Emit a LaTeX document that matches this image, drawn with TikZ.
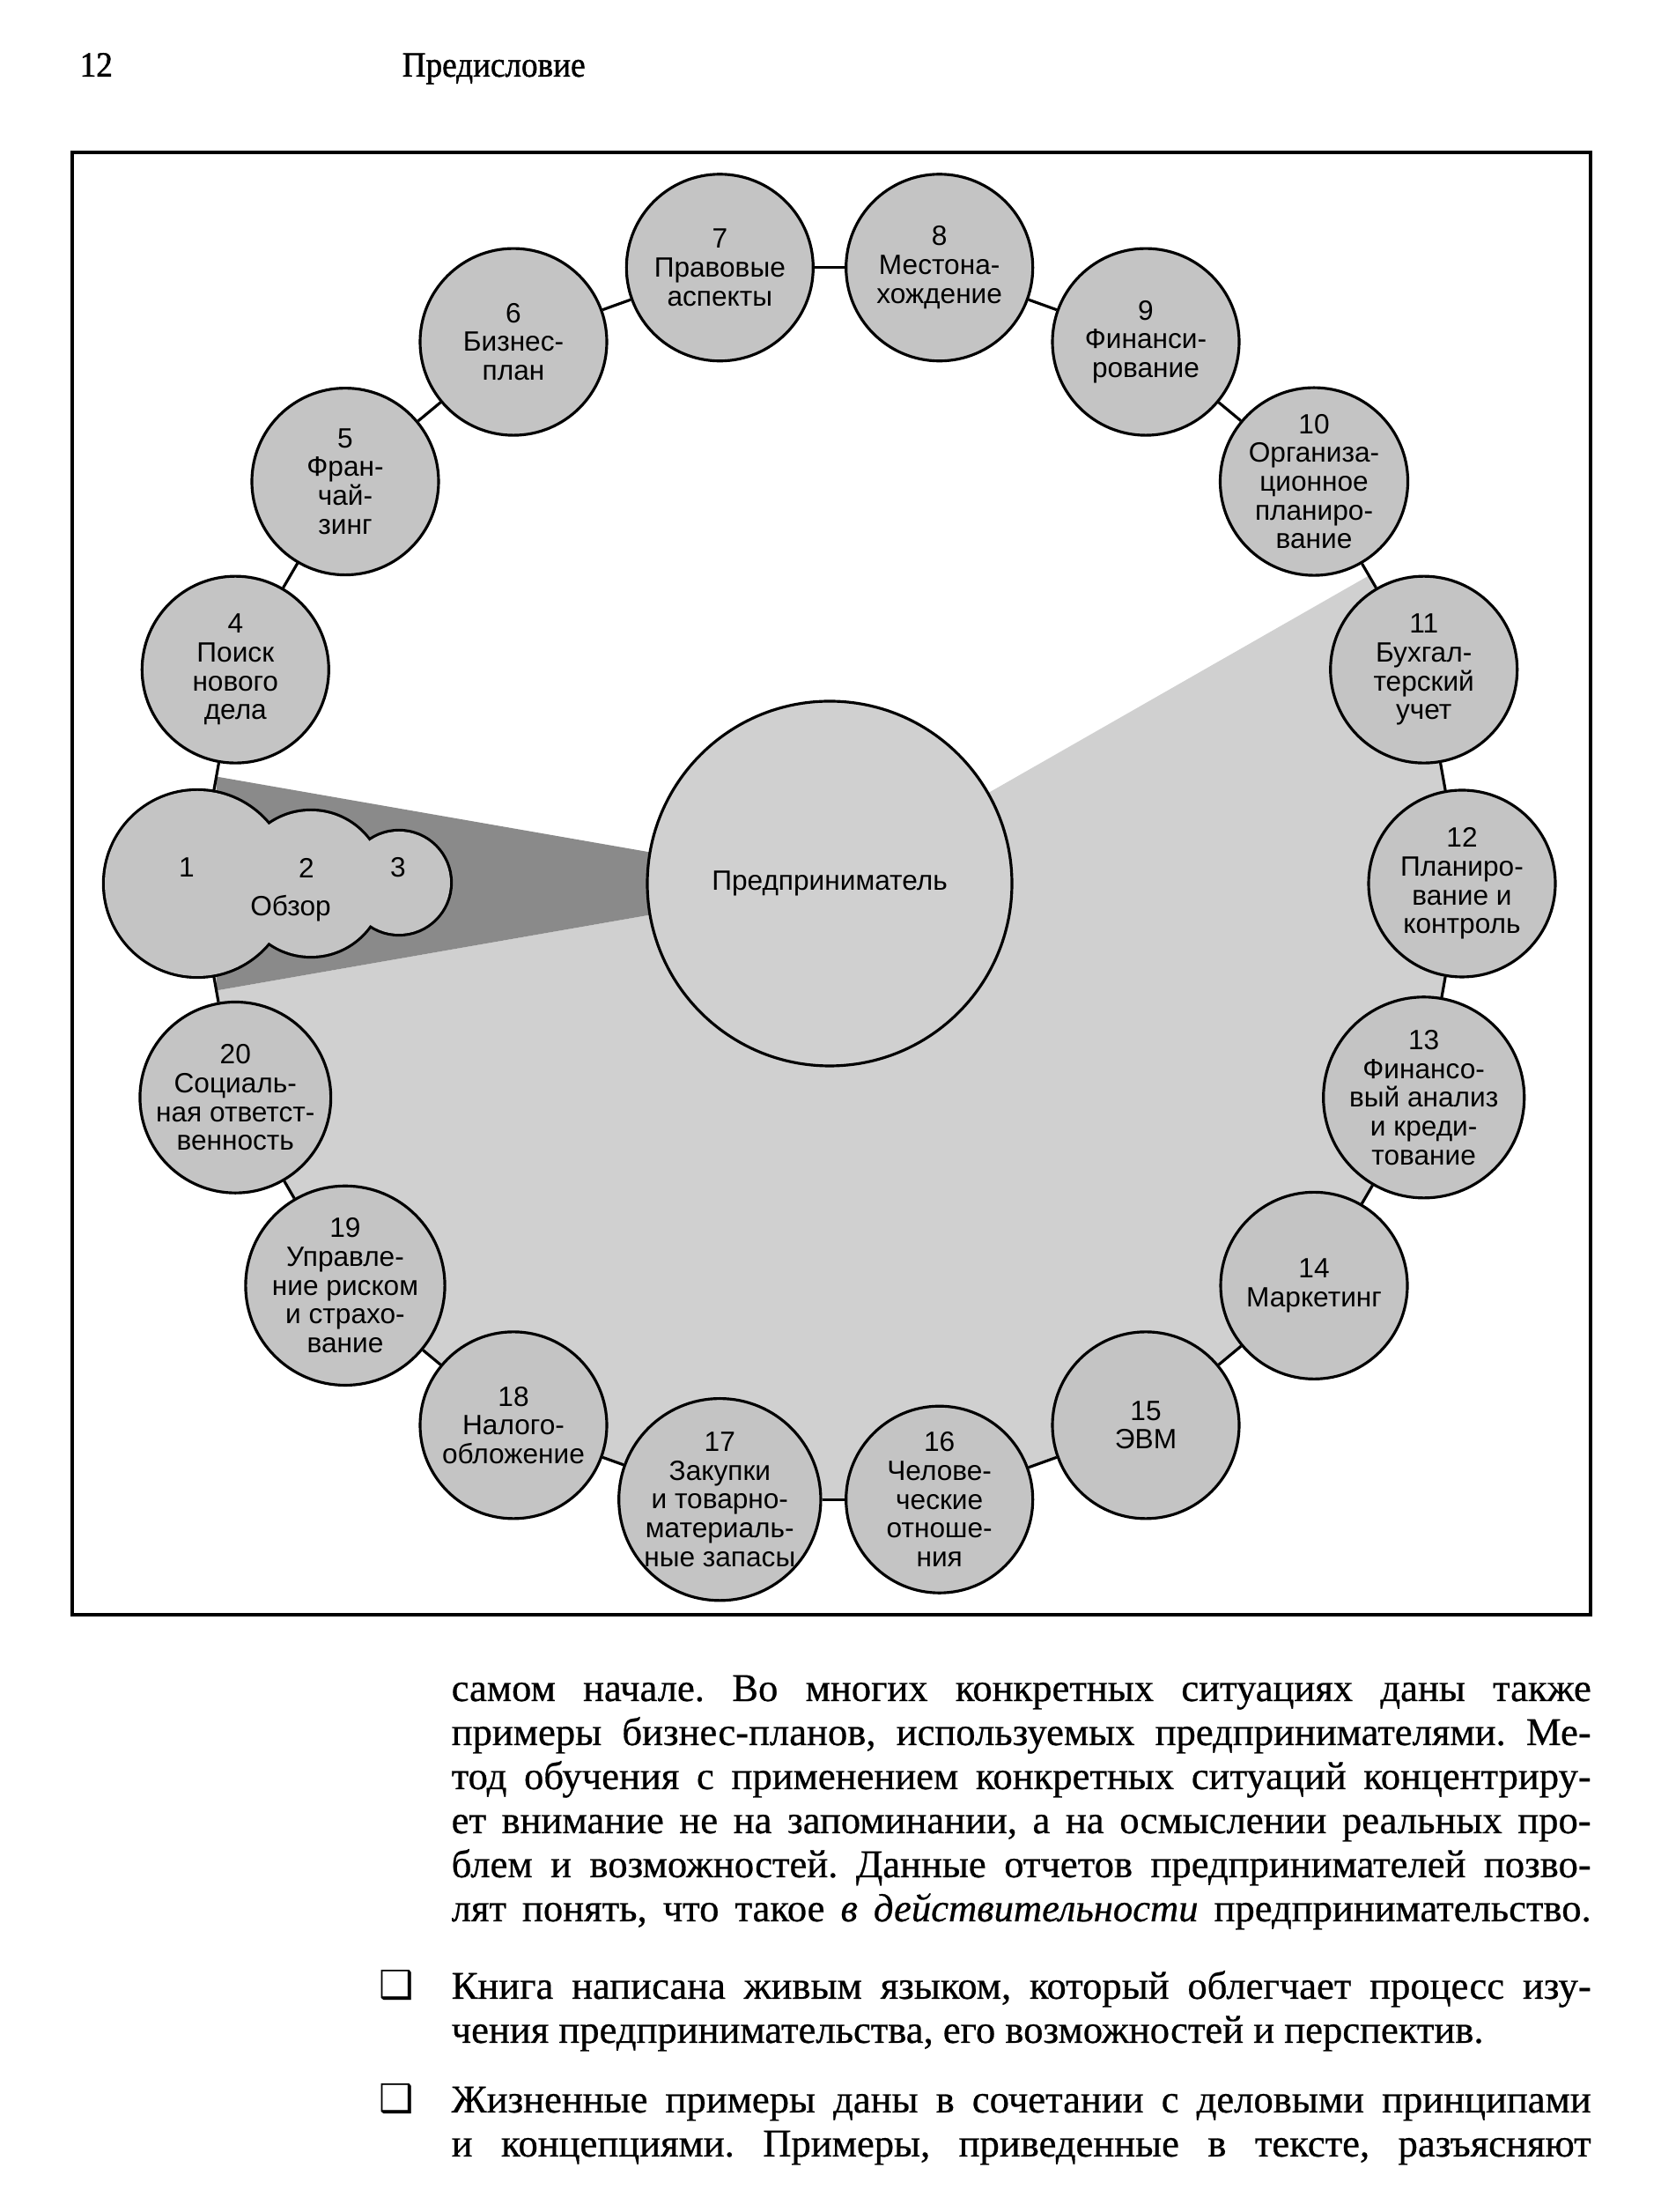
\documentclass[tikz,border=0pt]{standalone}
\usepackage{fontspec}
\setmainfont{Liberation Serif}
\setsansfont{Liberation Sans}
\newfontfamily\dingfont{DejaVu Sans}
\newfontfamily\headfont[FakeStretch=0.92,FakeBold=1.2]{Liberation Serif}
\newfontfamily\bodyfont[FakeBold=0.6]{Liberation Serif}
\frenchspacing
\usetikzlibrary{calc, backgrounds}

\definecolor{topicgray}{RGB}{196,196,196}
\definecolor{fieldgray}{RGB}{208,208,208}
\definecolor{wedgegray}{RGB}{138,138,138}

\begin{document}
\begin{tikzpicture}[
    topic/.style={draw, circle, fill=topicgray, line width=0.9pt, minimum size=2.12cm, inner sep=0pt, align=center, font=\sffamily\fontsize{9}{9.3}\selectfont},
    core/.style={draw, circle, fill=fieldgray, line width=0.9pt, minimum size=4.14cm, inner sep=0pt, font=\sffamily\fontsize{9}{9.3}\selectfont},
    cloudtext/.style={inner sep=0pt, font=\sffamily\fontsize{9}{9.3}\selectfont},
    link/.style={line width=0.9pt},
    headline/.style={anchor=base west, inner sep=0pt, font=\headfont\fontsize{11.5}{13}\selectfont},
    bodyline/.style={anchor=base west, inner sep=0pt, font=\bodyfont\fontsize{12.7}{14}\selectfont},
    bullet/.style={anchor=base west, inner sep=0pt, font=\dingfont\fontsize{12.5}{13}\selectfont}
]
\useasboundingbox (0,0) rectangle (18.86,25.11);

% Page head
\node[headline] (pgno) at (0.90,24.24) {12};
\node[headline] (runhead) at (4.56,24.24) {Предисловие};

% Frame
\draw[line width=1.1pt] (0.82,6.78) rectangle (18.06,23.38);

% Ring of topics
\coordinate (O) at (9.42,15.08);
\begin{scope}[shift={(O)}]
\coordinate (c1) at (180:7.18 and 7.10);
\node[topic] (c4) at (160:7.18 and 7.10) {4\\Поиск\\нового\\дела};
\node[topic] (c5) at (140:7.18 and 7.10) {5\\Фран-\\чай-\\зинг};
\node[topic] (c6) at (120:7.18 and 7.10) {6\\Бизнес-\\план};
\node[topic] (c7) at (100:7.18 and 7.10) {7\\Правовые\\аспекты};
\node[topic] (c8) at (80:7.18 and 7.10) {8\\Местона-\\хождение};
\node[topic] (c9) at (60:7.18 and 7.10) {9\\Финанси-\\рование};
\node[topic] (c10) at (40:7.18 and 7.10) {10\\Организа-\\ционное\\планиро-\\вание};
\node[topic] (c11) at (20:7.18 and 7.10) {11\\Бухгал-\\терский\\учет};
\node[topic] (c12) at (0:7.18 and 7.10) {12\\Планиро-\\вание и\\контроль};
\node[topic] (c13) at (-20:7.18 and 7.10) {13\\Финансо-\\вый анализ\\и креди-\\тование};
\node[topic] (c14) at (-40:7.18 and 7.10) {14\\Маркетинг};
\node[topic] (c15) at (-60:7.18 and 7.10) {15\\ЭВМ};
\node[topic] (c16) at (-80:7.18 and 7.10) {16\\Челове-\\ческие\\отноше-\\ния};
\node[topic] (c17) at (-100:7.18 and 7.10) {17\\Закупки\\и товарно-\\материаль-\\ные запасы};
\node[topic] (c18) at (-120:7.18 and 7.10) {18\\Налого-\\обложение};
\node[topic] (c19) at (-140:7.18 and 7.10) {19\\Управле-\\ние риском\\и страхо-\\вание};
\node[topic] (c20) at (-160:7.18 and 7.10) {20\\Социаль-\\ная ответст-\\венность};
\end{scope}

% Centre
\node[core] (ent) at (O) {Предприниматель};

% Review cloud (1-3)
\begin{scope}[shift={(c1)}]
\path[draw, line width=1.8pt] (0,0) circle (1.05) (1.29,0) circle (0.82) (2.29,0.01) circle (0.58);
\path[fill=topicgray] (0,0) circle (1.05) (1.29,0) circle (0.82) (2.29,0.01) circle (0.58);
\end{scope}
\node[cloudtext] (n1) at (2.12,15.26) {1};
\node[cloudtext] (n2) at (3.48,15.26) {2};
\node[cloudtext] (n3) at (4.52,15.26) {3};
\node[cloudtext] (rev) at (3.30,14.80) {Обзор};

% Shading and links
\begin{scope}[on background layer]
\fill[fieldgray] (O) -- ($(c10.center)!0.5!(c11.center)$) -- (c11.center) -- (c12.center) -- (c13.center)
  -- (c14.center) -- (c15.center) -- (c16.center) -- (c17.center) -- (c18.center) -- (c19.center)
  -- (c20.center) -- ($(c20.center)!0.5!(c1)$) -- cycle;
\fill[wedgegray] (O) -- ($(c20.center)!0.5!(c1)$) -- ($(c1)!0.5!(c4.center)$) -- cycle;
\draw[link] (c1) -- (c4);
\draw[link] (c4) -- (c5);
\draw[link] (c5) -- (c6);
\draw[link] (c6) -- (c7);
\draw[link] (c7) -- (c8);
\draw[link] (c8) -- (c9);
\draw[link] (c9) -- (c10);
\draw[link] (c10) -- (c11);
\draw[link] (c11) -- (c12);
\draw[link] (c12) -- (c13);
\draw[link] (c13) -- (c14);
\draw[link] (c14) -- (c15);
\draw[link] (c15) -- (c16);
\draw[link] (c16) -- (c17);
\draw[link] (c17) -- (c18);
\draw[link] (c18) -- (c19);
\draw[link] (c19) -- (c20);
\draw[link] (c20) -- (c1);
\end{scope}

% Body text
\node[bodyline] (t1) at (5.12,5.80) {\makebox[12.94cm][s]{самом начале. Во многих конкретных ситуациях даны также}};
\node[bodyline] (t2) at (5.12,5.30) {\makebox[12.94cm][s]{примеры бизнес-планов, используемых предпринимателями. Ме-}};
\node[bodyline] (t3) at (5.12,4.80) {\makebox[12.94cm][s]{тод обучения с применением конкретных ситуаций концентриру-}};
\node[bodyline] (t4) at (5.12,4.30) {\makebox[12.94cm][s]{ет внимание не на запоминании, а на осмыслении реальных про-}};
\node[bodyline] (t5) at (5.12,3.80) {\makebox[12.94cm][s]{блем и возможностей. Данные отчетов предпринимателей позво-}};
\node[bodyline] (t6) at (5.12,3.30) {\makebox[12.94cm][s]{лят понять, что такое \textit{в действительности} предпринимательство.}};

\node[bullet] (b1) at (4.30,2.42) {❑};
\node[bodyline] (t7) at (5.12,2.42) {\makebox[12.94cm][s]{Книга написана живым языком, который облегчает процесс изу-}};
\node[bodyline] (t8) at (5.12,1.92) {чения предпринимательства, его возможностей и перспектив.};

\node[bullet] (b2) at (4.30,1.13) {❑};
\node[bodyline] (t9) at (5.12,1.13) {\makebox[12.94cm][s]{Жизненные примеры даны в сочетании с деловыми принципами}};
\node[bodyline] (t10) at (5.12,0.63) {\makebox[12.94cm][s]{и концепциями. Примеры, приведенные в тексте, разъясняют}};

\end{tikzpicture}
\end{document}
